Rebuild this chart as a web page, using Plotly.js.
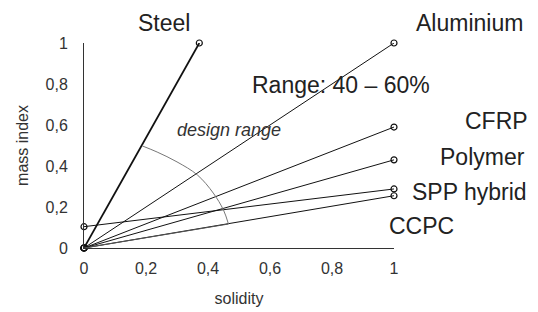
<!DOCTYPE html>
<html>
<head>
<meta charset="utf-8">
<script src="https://cdn.plot.ly/plotly-3.0.1.min.js"></script>
<style>html,body{margin:0;padding:0;background:#fff}#chart{width:538px;height:312px}</style>
</head>
<body>
<div id="chart"></div>
<script>
// Material lines: solidity (x) vs mass index (y)
const materials = ['Steel', 'Aluminium', 'CFRP', 'Polymer', 'SPP hybrid', 'CCPC'];
const startX = [0, 0, 0, 0, 0, 0];
const startY = [0, 0, 0, 0, 0.104, 0];
const endX = [0.372, 1, 1, 1, 1, 1];
const endY = [1, 1, 0.59, 0.43, 0.288, 0.255];
const lineWidths = [1.8, 1, 1, 1, 1, 1];

// design range arc and its closing radial line
const arcX = [0.188, 0.236, 0.300, 0.366, 0.417, 0.450, 0.466];
const arcY = [0.498, 0.468, 0.420, 0.356, 0.268, 0.185, 0.117];

const tickVals = [0, 0.2, 0.4, 0.6, 0.8, 1];

const traces = [];
materials.forEach((m, i) => {
  traces.push({
    type: 'scatter', mode: 'lines+markers', name: m,
    x: [startX[i], endX[i]], y: [startY[i], endY[i]],
    line: {color: '#111', width: lineWidths[i]},
    marker: {symbol: 'circle-open', size: 6, color: '#111', line: {width: 1.2}},
    cliponaxis: false, hoverinfo: 'name'
  });
});
traces.push({
  type: 'scatter', mode: 'lines', x: arcX, y: arcY,
  line: {color: '#777', width: 1, shape: 'spline'}, hoverinfo: 'skip', cliponaxis: false
});
traces.push({
  type: 'scatter', mode: 'lines', x: [0, arcX[arcX.length - 1]], y: [0, arcY[arcY.length - 1]],
  line: {color: '#555', width: 1}, hoverinfo: 'skip', cliponaxis: false
});

const F = 'Liberation Sans, Arial, sans-serif';
const labelFont = {family: F, size: 23, color: '#222'};
const ann = (text, x, y, font) => ({text, x, y, xref: 'paper', yref: 'paper', showarrow: false,
  xanchor: 'center', yanchor: 'middle', font: font || labelFont});

const layout = {
  width: 538, height: 312,
  margin: {l: 84, r: 144, t: 43, b: 64},
  paper_bgcolor: '#fff', plot_bgcolor: '#fff',
  showlegend: false,
  separators: ', ',
  font: {family: F, size: 16, color: '#333'},
  xaxis: {
    range: [0, 1], tickvals: tickVals, showgrid: false, zeroline: false,
    showline: true, linecolor: '#333', linewidth: 1, ticks: '', ticklabelstandoff: 6,
    tickfont: {family: F, size: 16, color: '#333'},
    title: {text: 'solidity', font: {family: F, size: 16, color: '#333'}, standoff: 16}
  },
  yaxis: {
    range: [0, 1], tickvals: tickVals, showgrid: false, zeroline: false,
    showline: true, linecolor: '#333', linewidth: 1, ticks: '', ticklabelstandoff: 12,
    tickfont: {family: F, size: 16, color: '#333'},
    title: {text: 'mass index', font: {family: F, size: 16, color: '#333'}, standoff: 12}
  },
  annotations: [
    ann('Steel', 0.258, 1.098),
    ann('Aluminium', 1.242, 1.098),
    ann('Range: 40 – 60%', 0.829, 0.795),
    ann('CFRP', 1.332, 0.62),
    ann('Polymer', 1.284, 0.444),
    ann('SPP hybrid', 1.245, 0.273),
    ann('CCPC', 1.09, 0.107),
    ann('<i>design range</i>', 0.468, 0.576, {family: F, size: 18, color: '#333'})
  ]
};

Plotly.newPlot('chart', traces, layout, {displayModeBar: false, staticPlot: true});
</script>
</body>
</html>
